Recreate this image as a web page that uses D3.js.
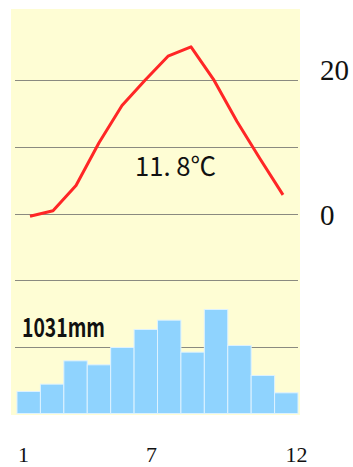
<!DOCTYPE html>
<html>
<head>
<meta charset="utf-8">
<script src="https://cdn.jsdelivr.net/npm/d3@7"></script>
<style>
  html, body { margin: 0; padding: 0; background: #fff; }
  svg { display: block; }
</style>
</head>
<body>
<svg id="chart" width="353" height="467"></svg>
<script>
// Monthly climate normals (temperature line + precipitation bars)
const months = [1, 2, 3, 4, 5, 6, 7, 8, 9, 10, 11, 12];
const temperature = [-0.4, 0.4, 4.2, 10.6, 16.2, 20.0, 23.6, 25.0, 20.0, 13.8, 8.2, 2.8];
const precipitation = [33, 44, 79, 73, 99, 126, 140, 92, 156, 102, 57, 31];
const tempTicks = [20, 0];
const gridTemps = [20, 10, 0, -10, -20];
const monthLabels = [1, 7, 12];
const meanTempLabel = '11. 8\u2103';
const totalPrecipLabel = '1031mm';

const svg = d3.select('#chart');

// Plot area (pale yellow panel)
const panel = { left: 11, right: 300, top: 9, bottom: 415 };

// Shared vertical range: 10 degC per 100 mm
const yTemp = d3.scaleLinear().domain([-30, 30]).range([413.5, 13.5]);
const yPrec = d3.scaleLinear().domain([0, 600]).range([413.5, 13.5]);

const xBand = d3.scaleBand()
  .domain(months)
  .range([17, 298])
  .paddingInner(0);

const xLine = d3.scaleLinear().domain([1, 12]).range([30, 283]);

// Labels are hand placed in the original, not evenly spaced
const xLabel = d3.scaleLinear().domain([1, 7, 12]).range([23.5, 151.5, 296.5]);
const yLabel = d3.scaleLinear().domain([0, 20]).range([225, 79.5]);

svg.append('rect')
  .attr('x', panel.left)
  .attr('y', panel.top)
  .attr('width', panel.right - panel.left)
  .attr('height', panel.bottom - panel.top)
  .style('fill', '#FEFDD4');

// Horizontal grid lines
svg.append('g')
  .attr('class', 'grid')
  .selectAll('line')
  .data(gridTemps)
  .join('line')
  .attr('x1', 15)
  .attr('x2', 298)
  .attr('y1', d => Math.round(yTemp(d)) + 0.5)
  .attr('y2', d => Math.round(yTemp(d)) + 0.5)
  .style('stroke', '#8a8a80')
  .style('stroke-width', 1);

// Precipitation bars
svg.append('g')
  .attr('class', 'bars')
  .selectAll('rect')
  .data(months)
  .join('rect')
  .attr('x', d => xBand(d))
  .attr('y', (d, i) => yPrec(precipitation[i]))
  .attr('width', xBand.bandwidth())
  .attr('height', (d, i) => yPrec(0) - yPrec(precipitation[i]))
  .style('fill', '#8FD3FE')
  .style('stroke', '#DDF2FF')
  .style('stroke-width', 1);

// Temperature line
const line = d3.line()
  .x((d, i) => xLine(months[i]))
  .y(d => yTemp(d));

svg.append('path')
  .datum(temperature)
  .attr('d', line)
  .style('fill', 'none')
  .style('stroke', '#FF2626')
  .style('stroke-width', 3)
  .style('stroke-linejoin', 'round');

// Annual summaries (narrow gothic look, squeezed to fit)
svg.append('text')
  .attr('x', 135)
  .attr('y', 176)
  .attr('textLength', 81)
  .attr('lengthAdjust', 'spacingAndGlyphs')
  .style('font-family', '"Noto Sans CJK JP", sans-serif')
  .style('font-size', '26px')
  .style('fill', '#111')
  .text(meanTempLabel);

svg.append('text')
  .attr('x', 22)
  .attr('y', 337)
  .attr('textLength', 83)
  .attr('lengthAdjust', 'spacingAndGlyphs')
  .style('font-family', '"Noto Sans CJK JP", sans-serif')
  .style('font-size', '26px')
  .style('font-weight', 'bold')
  .style('fill', '#111')
  .text(totalPrecipLabel);

// Right temperature labels
svg.append('g')
  .selectAll('text')
  .data(tempTicks)
  .join('text')
  .attr('x', 320)
  .attr('y', d => yLabel(d))
  .style('font-family', '"Liberation Serif", serif')
  .style('font-size', '29px')
  .style('fill', '#111')
  .text(d => d);

// Bottom month labels
svg.append('g')
  .selectAll('text')
  .data(monthLabels)
  .join('text')
  .attr('x', d => xLabel(d))
  .attr('y', 462)
  .attr('text-anchor', 'middle')
  .style('font-family', '"Liberation Serif", serif')
  .style('font-size', '22px')
  .style('fill', '#111')
  .text(d => d);
</script>
</body>
</html>
